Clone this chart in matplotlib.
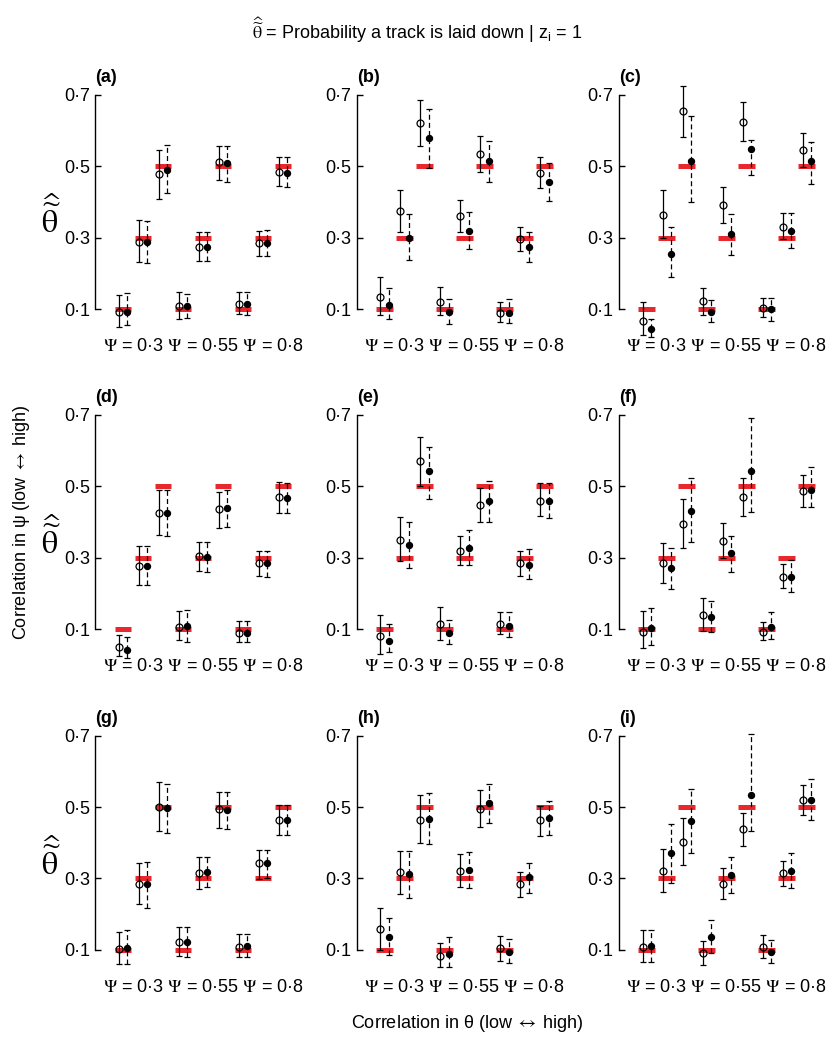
import numpy as np
import matplotlib
matplotlib.use('Agg')
import matplotlib.pyplot as plt

plt.rcParams['font.family'] = ['Liberation Sans', 'DejaVu Sans']
plt.rcParams['mathtext.fontset'] = 'stix'

## values
## 9 panels (a..i), 9 groups each: Psi = 0.3, 0.55, 0.8 x true theta = 0.1, 0.3, 0.5
panels = ['(a)', '(b)', '(c)', '(d)', '(e)', '(f)', '(g)', '(h)', '(i)']
true_theta = [0.1, 0.3, 0.5, 0.1, 0.3, 0.5, 0.1, 0.3, 0.5]
ytick_vals = [0.1, 0.3, 0.5, 0.7]
ytick_labels = ['0·1', '0·3', '0·5', '0·7']
psi_vals = ['0·3', '0·55', '0·8']

# open circles (solid error bars)
open_mid = [
    [0.093, 0.287, 0.479, 0.110, 0.274, 0.511, 0.115, 0.284, 0.485],
    [0.134, 0.376, 0.620, 0.120, 0.362, 0.534, 0.089, 0.296, 0.482],
    [0.068, 0.365, 0.655, 0.122, 0.393, 0.625, 0.103, 0.331, 0.545],
    [0.050, 0.276, 0.426, 0.107, 0.304, 0.436, 0.089, 0.285, 0.469],
    [0.081, 0.350, 0.571, 0.114, 0.320, 0.449, 0.114, 0.285, 0.459],
    [0.092, 0.285, 0.394, 0.140, 0.348, 0.470, 0.091, 0.247, 0.488],
    [0.102, 0.284, 0.500, 0.121, 0.315, 0.494, 0.107, 0.342, 0.464],
    [0.159, 0.317, 0.464, 0.084, 0.322, 0.495, 0.105, 0.284, 0.464],
    [0.107, 0.321, 0.403, 0.091, 0.285, 0.439, 0.107, 0.315, 0.521],
]
open_lo = [
    [0.051, 0.233, 0.409, 0.072, 0.235, 0.462, 0.087, 0.249, 0.446],
    [0.084, 0.317, 0.557, 0.083, 0.317, 0.484, 0.065, 0.263, 0.438],
    [0.028, 0.300, 0.583, 0.084, 0.342, 0.572, 0.078, 0.296, 0.499],
    [0.024, 0.225, 0.364, 0.070, 0.262, 0.384, 0.063, 0.249, 0.426],
    [0.031, 0.290, 0.501, 0.070, 0.279, 0.401, 0.086, 0.249, 0.417],
    [0.047, 0.229, 0.326, 0.096, 0.300, 0.417, 0.070, 0.215, 0.443],
    [0.060, 0.228, 0.433, 0.084, 0.271, 0.440, 0.079, 0.298, 0.422],
    [0.100, 0.256, 0.400, 0.053, 0.277, 0.445, 0.070, 0.249, 0.420],
    [0.067, 0.263, 0.338, 0.058, 0.243, 0.392, 0.077, 0.278, 0.478],
]
open_hi = [
    [0.140, 0.350, 0.546, 0.147, 0.315, 0.557, 0.149, 0.318, 0.527],
    [0.189, 0.435, 0.685, 0.161, 0.406, 0.585, 0.119, 0.331, 0.526],
    [0.120, 0.435, 0.724, 0.159, 0.443, 0.680, 0.131, 0.368, 0.592],
    [0.083, 0.333, 0.490, 0.151, 0.345, 0.483, 0.123, 0.320, 0.513],
    [0.140, 0.413, 0.639, 0.162, 0.362, 0.496, 0.148, 0.320, 0.508],
    [0.151, 0.342, 0.464, 0.187, 0.398, 0.524, 0.120, 0.283, 0.532],
    [0.151, 0.344, 0.569, 0.163, 0.359, 0.543, 0.144, 0.380, 0.506],
    [0.218, 0.378, 0.533, 0.119, 0.369, 0.548, 0.139, 0.319, 0.504],
    [0.156, 0.382, 0.468, 0.126, 0.330, 0.484, 0.142, 0.350, 0.563],
]
# filled circles (dashed error bars)
fill_mid = [
    [0.093, 0.287, 0.490, 0.110, 0.274, 0.508, 0.115, 0.284, 0.482],
    [0.112, 0.299, 0.579, 0.092, 0.320, 0.516, 0.089, 0.273, 0.456],
    [0.044, 0.255, 0.516, 0.093, 0.311, 0.547, 0.100, 0.320, 0.516],
    [0.042, 0.276, 0.426, 0.109, 0.301, 0.438, 0.089, 0.285, 0.468],
    [0.067, 0.336, 0.543, 0.089, 0.328, 0.460, 0.110, 0.280, 0.460],
    [0.103, 0.272, 0.431, 0.133, 0.313, 0.542, 0.107, 0.245, 0.491],
    [0.105, 0.284, 0.498, 0.121, 0.319, 0.492, 0.111, 0.342, 0.464],
    [0.135, 0.312, 0.466, 0.090, 0.324, 0.510, 0.095, 0.303, 0.468],
    [0.111, 0.371, 0.461, 0.135, 0.309, 0.534, 0.093, 0.321, 0.521],
]
fill_lo = [
    [0.056, 0.229, 0.426, 0.075, 0.236, 0.457, 0.085, 0.249, 0.443],
    [0.074, 0.238, 0.494, 0.059, 0.268, 0.457, 0.061, 0.233, 0.404],
    [0.021, 0.189, 0.399, 0.063, 0.252, 0.477, 0.068, 0.271, 0.450],
    [0.019, 0.225, 0.362, 0.065, 0.260, 0.386, 0.063, 0.247, 0.424],
    [0.035, 0.271, 0.464, 0.059, 0.279, 0.401, 0.078, 0.240, 0.410],
    [0.056, 0.212, 0.345, 0.091, 0.260, 0.427, 0.074, 0.203, 0.441],
    [0.060, 0.218, 0.427, 0.079, 0.275, 0.438, 0.079, 0.300, 0.422],
    [0.086, 0.246, 0.396, 0.053, 0.274, 0.454, 0.063, 0.259, 0.422],
    [0.067, 0.287, 0.372, 0.091, 0.259, 0.434, 0.063, 0.274, 0.464],
]
fill_hi = [
    [0.145, 0.347, 0.560, 0.143, 0.315, 0.557, 0.149, 0.322, 0.527],
    [0.159, 0.367, 0.659, 0.128, 0.372, 0.572, 0.128, 0.317, 0.508],
    [0.073, 0.329, 0.641, 0.126, 0.367, 0.573, 0.131, 0.368, 0.569],
    [0.079, 0.333, 0.491, 0.154, 0.345, 0.490, 0.123, 0.320, 0.510],
    [0.115, 0.401, 0.611, 0.126, 0.378, 0.516, 0.148, 0.325, 0.510],
    [0.159, 0.326, 0.524, 0.180, 0.362, 0.690, 0.149, 0.294, 0.555],
    [0.156, 0.347, 0.565, 0.163, 0.359, 0.541, 0.144, 0.380, 0.506],
    [0.189, 0.377, 0.540, 0.136, 0.375, 0.564, 0.131, 0.344, 0.517],
    [0.156, 0.452, 0.551, 0.184, 0.359, 0.704, 0.128, 0.371, 0.578],
]

red = '#e8282d'
W, H = 837, 1039

fig = plt.figure(figsize=(W / 100, H / 100), dpi=100)


def ptext(xp, yp, s, **kw):
    # place text by pixel position measured from the top-left corner
    return fig.text(xp / W, 1 - yp / H, s, **kw)


lefts = [0.1139, 0.4262, 0.7396]
bottoms = [0.6680, 0.3600, 0.0513]
w, h = 0.2386, 0.2545

psi_label = ' '.join(r'$\mathrm{\Psi}$ = ' + v for v in psi_vals)

x = np.arange(9)
for p in range(9):
    r, c = divmod(p, 3)
    ax = fig.add_axes([lefts[c], bottoms[r], w, h])

    ax.hlines(true_theta, x - 0.42, x + 0.42, color=red, lw=3.6, zorder=1)

    om = np.array(open_mid[p])
    ax.errorbar(x - 0.21, om, yerr=[om - np.array(open_lo[p]), np.array(open_hi[p]) - om],
                fmt='o', ms=5, mfc='none', mec='black', mew=0.9, color='black',
                elinewidth=0.9, capsize=2.0, capthick=0.9, zorder=3)

    fm = np.array(fill_mid[p])
    eb = ax.errorbar(x + 0.21, fm, yerr=[fm - np.array(fill_lo[p]), np.array(fill_hi[p]) - fm],
                     fmt='o', ms=4.3, mfc='black', mec='black', color='black',
                     elinewidth=0.9, capsize=2.0, capthick=0.9, zorder=3)
    eb[2][0].set_linestyle((0, (4, 2.5)))

    ax.set_xlim(-1.385, 8.6)
    ax.set_ylim(0.0, 0.74)
    for s in ['top', 'right', 'bottom']:
        ax.spines[s].set_visible(False)
    ax.spines['left'].set_bounds(0.1, 0.7)
    ax.spines['left'].set_linewidth(1.0)
    ax.set_xticks([])
    ax.set_yticks(ytick_vals)
    ax.set_yticklabels(ytick_labels)
    ax.tick_params(axis='y', direction='in', length=4, width=1.0, labelsize=13, pad=4)
    ax.patch.set_visible(False)

    ax.text(-1.385, 0.748, panels[p], fontsize=13, fontweight='bold',
            ha='left', va='center', clip_on=False)
    ax.text(4, -0.004, psi_label, fontsize=13, ha='center', va='center', clip_on=False)

theta_hat = r'$\widehat{\widetilde{\mathrm{\theta}}}$'

# theta label (left column, upright)
for yc in [218, 539, 860]:
    ptext(51, yc, theta_hat, fontsize=23, ha='center', va='center')

ptext(417, 30, theta_hat + ' = Probability a track is laid down | $\\mathregular{z_i}$ = 1',
      fontsize=13, ha='center', va='center')

arrow = r'$\leftrightarrow$'
ptext(22, 522, 'Correlation in ψ (low ' + arrow + ' high)', fontsize=13,
      rotation=90, ha='center', va='center')
ptext(467, 1023, 'Correlation in θ (low ' + arrow + ' high)', fontsize=13,
      ha='center', va='center')

fig.savefig('out.png', dpi=100)
